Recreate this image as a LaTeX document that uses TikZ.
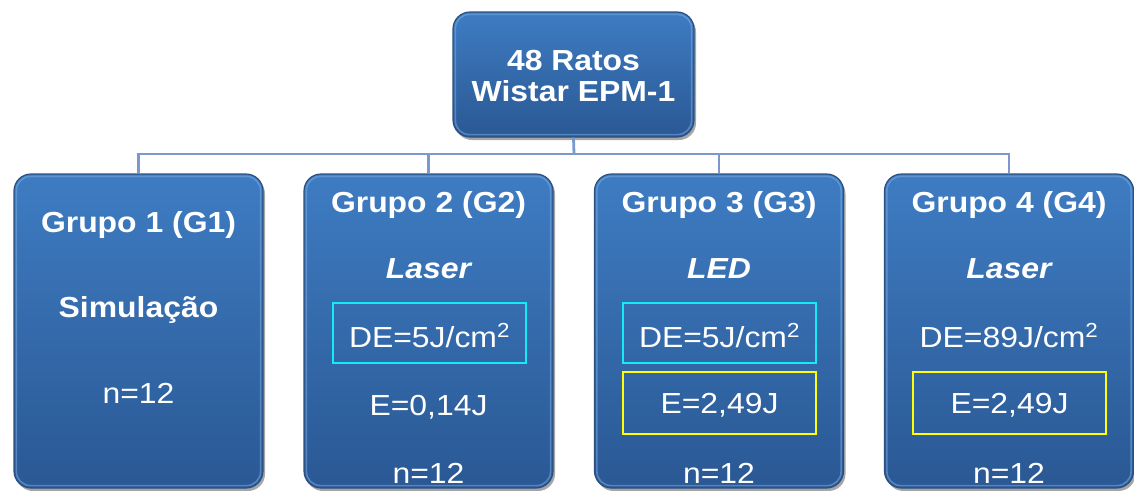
\documentclass[tikz,border=0pt]{standalone}
\usepackage{fontspec}
\setmainfont{Liberation Sans}[FakeStretch=1.1]
\usetikzlibrary{shadows}
\definecolor{boxtop}{RGB}{62,124,194}
\definecolor{boxbot}{RGB}{42,88,148}
\definecolor{boxedge}{RGB}{44,80,126}
\definecolor{boxhi}{RGB}{120,170,228}
\definecolor{conncol}{RGB}{122,153,204}
\definecolor{cyanframe}{RGB}{20,235,245}
\definecolor{yellowframe}{RGB}{255,255,0}
\begin{document}
\begin{tikzpicture}[x=1pt,y=-1pt,
  box/.style={rounded corners=17pt, draw=boxedge, line width=1.2pt,
    top color=boxtop, bottom color=boxbot,
    drop shadow={shadow xshift=2pt,shadow yshift=-3pt,opacity=0.35,fill=black}},
  hilite/.style={rounded corners=14pt, draw=boxhi, line width=1.6pt, opacity=0.55},
  groupbox/.style={box, minimum width=249pt, minimum height=314pt, inner sep=0pt},
  conn/.style={draw=conncol, line width=2.8pt},
  txt/.style={text=white, inner sep=0pt, anchor=base, font=\fontsize{29}{33}\selectfont},
  btxt/.style={txt, font=\fontsize{29}{33}\selectfont\bfseries},
  itxt/.style={txt, font=\fontsize{29}{33}\selectfont\bfseries\itshape},
  cframe/.style={draw=cyanframe, line width=2.6pt, minimum width=193pt, minimum height=60pt, inner sep=0pt},
  yframe/.style={draw=yellowframe, line width=2.6pt, minimum width=193pt, minimum height=62pt, inner sep=0pt}
]
\useasboundingbox (0,0) rectangle (1134,490);

\coordinate (bus) at (574,154);
\node[box, minimum width=241pt, minimum height=125pt, inner sep=0pt] (top) at (573.5,74.5) {};
\node[groupbox] (g1) at (138.5,331) {};
\node[groupbox] (g2) at (428.5,331) {};
\node[groupbox] (g3) at (719,331) {};
\node[groupbox] (g4) at (1009,331) {};

\draw[conn] (top.south) -- (bus);
\draw[conn] (bus) -| (g1.north);
\draw[conn] (bus) -| (g2.north);
\draw[conn] (bus) -| (g3.north);
\draw[conn] (bus) -| (g4.north);

\foreach \n in {top,g1,g2,g3,g4}{
  \draw[hilite] ([shift={(3pt,-3pt)}]\n.north west) rectangle ([shift={(-3pt,3pt)}]\n.south east);
}

\node[btxt] (t1) at (573.5,70) {48 Ratos};
\node[btxt] (t2) at (573.5,101) {Wistar EPM-1};

\node[btxt] (g1a) at (138.5,232) {Grupo 1 (G1)};
\node[btxt] (g1b) at (138.5,317) {Simulação};
\node[txt] (g1c) at (138.5,403) {n=12};

\node[btxt] (g2a) at (428.5,212) {Grupo 2 (G2)};
\node[itxt] (g2b) at (428.5,278) {Laser};
\node[cframe] (f2a) at (429.5,333) {};
\node[txt] (g2c) at (429.5,347) {DE=5J/cm\textsuperscript{2}};
\node[txt] (g2d) at (428.5,415) {E=0,14J};
\node[txt] (g2e) at (428.5,483) {n=12};

\node[btxt] (g3a) at (719,212) {Grupo 3 (G3)};
\node[itxt] (g3b) at (719,278) {LED};
\node[cframe] (f3a) at (719.5,333) {};
\node[txt] (g3c) at (719.5,347) {DE=5J/cm\textsuperscript{2}};
\node[yframe] (f3b) at (719.5,403) {};
\node[txt] (g3d) at (719.5,413) {E=2,49J};
\node[txt] (g3e) at (719,483) {n=12};

\node[btxt] (g4a) at (1009,212) {Grupo 4 (G4)};
\node[itxt] (g4b) at (1009,278) {Laser};
\node[txt] (g4c) at (1009,347) {DE=89J/cm\textsuperscript{2}};
\node[yframe] (f4b) at (1009.5,403) {};
\node[txt] (g4d) at (1009.5,413) {E=2,49J};
\node[txt] (g4e) at (1009,483) {n=12};
\end{tikzpicture}
\end{document}
